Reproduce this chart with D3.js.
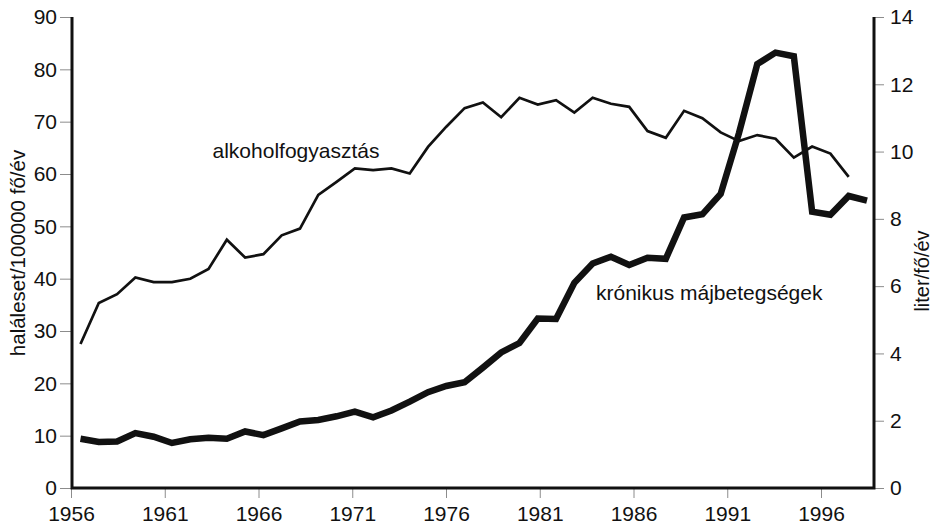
<!DOCTYPE html>
<html>
<head>
<meta charset="utf-8">
<script src="https://cdn.jsdelivr.net/npm/d3@7"></script>
<style>
  body { margin: 0; background: #fff; }
  svg { display: block; font-family: "Liberation Sans", Arial, sans-serif; }
</style>
</head>
<body>
<svg id="chart" width="936" height="527"></svg>
<script>
// liver disease deaths per 100000 (left axis), 1956-1999
const liverYears = d3.range(1956, 2000);
const liverDeaths = [
  9.4, 8.8, 8.9, 10.5, 9.8, 8.6, 9.3, 9.6, 9.4, 10.8,
  10.1, 11.4, 12.7, 13.0, 13.7, 14.6, 13.5, 14.8, 16.5, 18.3,
  19.5, 20.2, 23.0, 25.9, 27.7, 32.4, 32.3, 39.2, 42.9, 44.2,
  42.6, 44.0, 43.8, 51.7, 52.3, 56.2, 67.8, 81.0, 83.2, 82.5,
  52.8, 52.2, 55.8, 54.9
];

// alcohol consumption litre/person/year (right axis), 1956-1998
const alcoholYears = d3.range(1956, 1999);
const alcoholLitres = [
  4.28, 5.50, 5.76, 6.26, 6.12, 6.12, 6.22, 6.51, 7.38, 6.85,
  6.95, 7.51, 7.71, 8.71, 9.10, 9.50, 9.45, 9.50, 9.35, 10.14,
  10.74, 11.29, 11.46, 11.02, 11.60, 11.40, 11.53, 11.16, 11.60, 11.42,
  11.33, 10.61, 10.41, 11.21, 10.99, 10.57, 10.31, 10.49, 10.38, 9.82,
  10.15, 9.94, 9.25
];

const yearTicks = [1956, 1961, 1966, 1971, 1976, 1981, 1986, 1991, 1996];
const leftTicks = d3.range(0, 91, 10);
const rightTicks = d3.range(0, 15, 2);

const svg = d3.select("#chart");
const plotLeft = 72, plotRight = 874, plotTop = 17, plotBottom = 488;

const xData = d3.scaleLinear().domain([1956, 1999]).range([80.5, 867]);
const xTick = d3.scaleLinear().domain([1956, 1996]).range([71, 821]);
const yLeft = d3.scaleLinear().domain([0, 90]).range([plotBottom, plotTop]);
const yRight = d3.scaleLinear().domain([0, 14]).range([plotBottom, plotTop]);

function styleAxis(g) {
  g.select(".domain").remove();
  g.selectAll(".tick line").attr("stroke", "#8c8c8c").attr("stroke-width", 1);
  g.selectAll(".tick text")
    .attr("fill", "#111")
    .style("font-size", "21px")
    .style("font-family", "Liberation Sans, Arial, sans-serif");
}

// axes
svg.append("g")
  .attr("transform", `translate(${plotLeft},0)`)
  .call(d3.axisLeft(yLeft).tickValues(leftTicks).tickSize(12).tickPadding(3))
  .call(styleAxis);

svg.append("g")
  .attr("transform", `translate(${plotRight},0)`)
  .call(d3.axisRight(yRight).tickValues(rightTicks).tickSize(10).tickPadding(6))
  .call(styleAxis);

svg.append("g")
  .attr("transform", `translate(0,${plotBottom})`)
  .call(d3.axisBottom(xTick).tickValues(yearTicks).tickFormat(d3.format("d"))
    .tickSize(10).tickPadding(8))
  .call(styleAxis);

// thick frame lines
svg.append("path")
  .attr("d", `M${plotLeft},${plotTop}V${plotBottom}H${plotRight}V${plotTop}`)
  .attr("fill", "none")
  .attr("stroke", "#111")
  .attr("stroke-width", 3);

// series
const alcoholLine = d3.line()
  .x((d, i) => xData(alcoholYears[i]))
  .y(d => yRight(d));

const liverLine = d3.line()
  .x((d, i) => xData(liverYears[i]))
  .y(d => yLeft(d));

svg.append("path")
  .datum(alcoholLitres)
  .attr("d", alcoholLine)
  .attr("fill", "none")
  .attr("stroke", "#111")
  .attr("stroke-width", 2.7)
  .attr("stroke-linejoin", "miter");

svg.append("path")
  .datum(liverDeaths)
  .attr("d", liverLine)
  .attr("fill", "none")
  .attr("stroke", "#111")
  .attr("stroke-width", 6.5)
  .attr("stroke-linejoin", "miter");

// series labels
svg.append("text")
  .attr("x", 212.5).attr("y", 157.5)
  .style("font-size", "21px").attr("fill", "#111")
  .text("alkoholfogyasztás");

svg.append("text")
  .attr("x", 596).attr("y", 299.5)
  .style("font-size", "21px").attr("fill", "#111")
  .text("krónikus májbetegségek");

// axis titles
svg.append("text")
  .attr("transform", `translate(25,253) rotate(-90)`)
  .attr("text-anchor", "middle")
  .style("font-size", "20.5px").attr("fill", "#111")
  .text("haláleset/100000 fő/év");

svg.append("text")
  .attr("transform", `translate(929,271) rotate(-90)`)
  .attr("text-anchor", "middle")
  .style("font-size", "20px").attr("fill", "#111")
  .text("liter/fő/év");
</script>
</body>
</html>
